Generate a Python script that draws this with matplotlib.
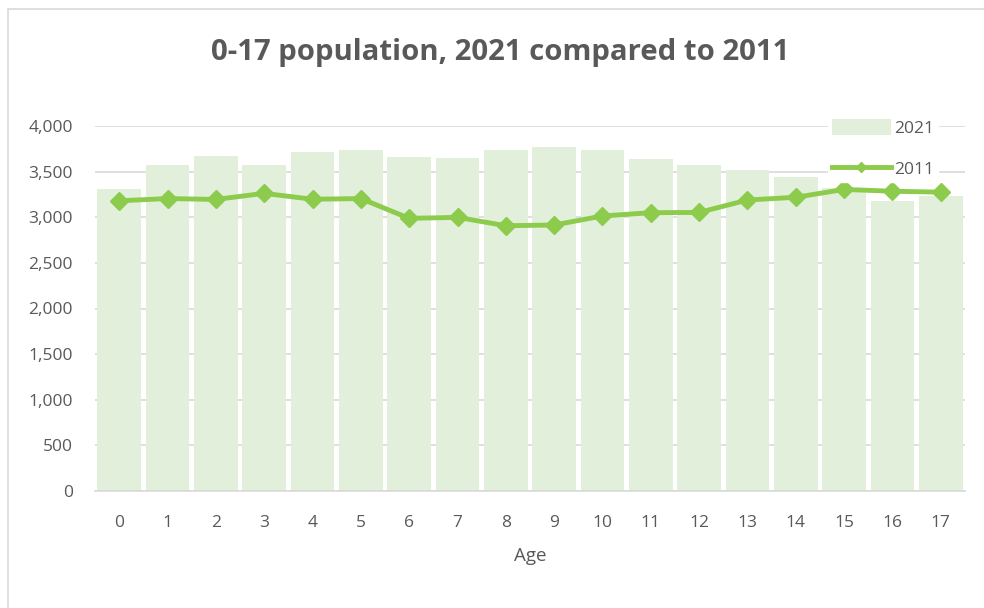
import matplotlib.pyplot as plt
import matplotlib.ticker as mticker
from matplotlib.patches import Rectangle, Patch
from matplotlib.lines import Line2D

# data
ages = list(range(18))
pop_2021 = [3310, 3573, 3675, 3573, 3710, 3737, 3660, 3645, 3737,
            3766, 3737, 3638, 3573, 3518, 3437, 3320, 3181, 3233]
pop_2011 = [3180, 3205, 3195, 3262, 3197, 3205, 2988, 2999, 2907,
            2915, 3014, 3050, 3053, 3189, 3219, 3305, 3285, 3275]

BAR_COLOR = "#E2EFDA"
LINE_COLOR = "#8CCB4B"
TEXT_COLOR = "#595959"
GRID_COLOR = "#D9D9D9"

plt.rcParams["font.family"] = ["Open Sans", "DejaVu Sans"]

fig = plt.figure(figsize=(9.84, 6.08), dpi=100)
# outer chart border like the spreadsheet frame
fig.patches.append(Rectangle((8 / 984, -0.01), 1.0, 1 - 9 / 608 + 0.01,
                             transform=fig.transFigure, fill=False,
                             edgecolor=GRID_COLOR, linewidth=1.2))

ax = fig.add_axes([95 / 984, 1 - 491 / 608, 870 / 984, 365 / 608])

ax.bar(ages, pop_2021, width=0.91, color=BAR_COLOR, zorder=2)
ax.plot(ages, pop_2011, color=LINE_COLOR, linewidth=3.5, marker="D",
        markersize=9, zorder=3)

ax.set_xlim(-0.5, 17.5)
ax.set_ylim(0, 4000)
ax.set_xticks(ages)
ax.set_yticks(range(0, 4001, 500))
ax.yaxis.set_major_formatter(mticker.FuncFormatter(lambda v, _: f"{v:,.0f}"))
ax.tick_params(length=0, labelsize=12.5, colors=TEXT_COLOR)
ax.tick_params(axis="x", pad=17)
ax.tick_params(axis="y", pad=16)
ax.grid(axis="y", color=GRID_COLOR, linewidth=1.2, zorder=0)
ax.set_axisbelow(True)
for side in ["top", "right", "left"]:
    ax.spines[side].set_visible(False)
ax.spines["bottom"].set_color(GRID_COLOR)
ax.spines["bottom"].set_linewidth(1.2)

ax.set_xlabel("Age", fontsize=13.5, color=TEXT_COLOR, labelpad=12)

fig.text(0.508, 0.914, "0-17 population, 2021 compared to 2011", ha="center",
         va="center", fontsize=21.2, fontweight="bold", color=TEXT_COLOR)

# legend: 2021 bars on top, 2011 line below (small marker as in the original)
handles = [Patch(facecolor=BAR_COLOR, edgecolor="none"),
           Line2D([], [], color=LINE_COLOR, linewidth=3.5, marker="D", markersize=5)]
leg = ax.legend(handles, ["2021", "2011"], loc="center",
                bbox_to_anchor=(0.906, 0.938), frameon=True,
                fontsize=12.5, labelcolor=TEXT_COLOR, handlelength=3.4,
                handleheight=1.0, labelspacing=1.35, borderpad=0.2,
                handletextpad=0.2, borderaxespad=0)
leg.get_frame().set_facecolor("white")
leg.get_frame().set_edgecolor("white")
leg.get_frame().set_alpha(1)

plt.savefig("out.png", dpi=100)
